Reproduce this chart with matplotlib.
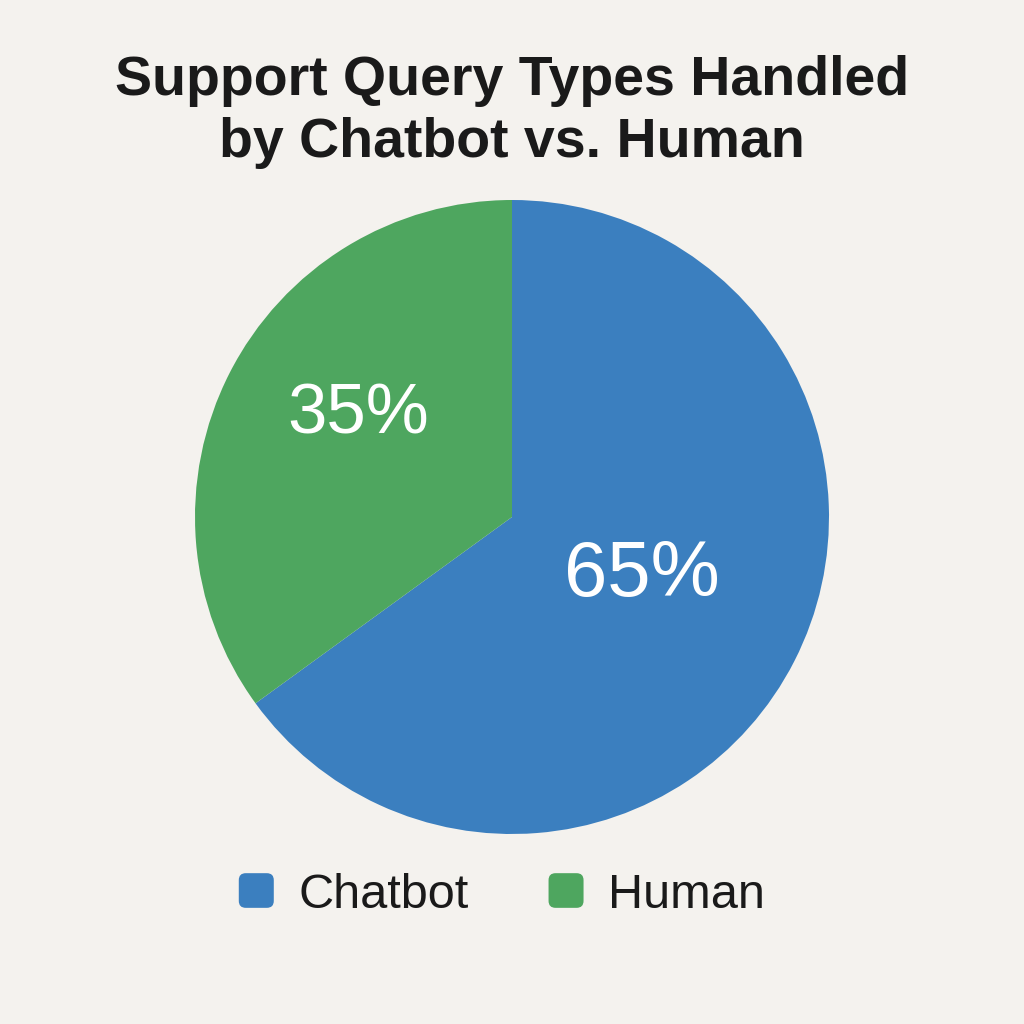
import numpy as np
import matplotlib
matplotlib.use("Agg")
import matplotlib.pyplot as plt
from matplotlib.patches import Patch, FancyBboxPatch
from matplotlib.legend_handler import HandlerPatch

# data
labels = ["Chatbot", "Human"]
shares = [65, 35]
colors = ["#3b7fbf", "#4ea65f"]
pct_sizes = [56, 51]
title = "Support Query Types Handled\nby Chatbot vs. Human"

BG = "#f4f2ee"
plt.rcParams["font.family"] = ["Liberation Sans", "DejaVu Sans"]

fig = plt.figure(figsize=(10.24, 10.24), dpi=100, facecolor=BG)
ax = fig.add_axes([195 / 1024, 190 / 1024, 634 / 1024, 634 / 1024])
ax.set_facecolor(BG)

wedges, _ = ax.pie(shares, colors=colors, startangle=90, counterclock=False,
                   radius=1.0, wedgeprops=dict(linewidth=0))
ax.set_xlim(-1, 1)
ax.set_ylim(-1, 1)
ax.set_aspect("equal")
ax.axis("off")

# percentage labels, nudged a little from the wedge middle like the original
label_dist = [0.45, 0.58]
angle_shift = [3, -6.5]
for w, val, size, d, sh in zip(wedges, shares, pct_sizes, label_dist, angle_shift):
    mid = np.deg2rad((w.theta1 + w.theta2) / 2 + sh)
    ax.text(d * np.cos(mid), d * np.sin(mid), f"{val}%", color="white",
            fontsize=size, ha="center", va="center")

fig.text(0.5, 1 - 112 / 1024, title, ha="center", va="center",
         fontsize=40, fontweight="bold", color="#1a1a1a", linespacing=1.25)


def rounded_box(legend, orig_handle, xdescent, ydescent, width, height, fontsize):
    return FancyBboxPatch((-xdescent, -ydescent), width, height,
                          boxstyle="round,pad=0,rounding_size=5")


handles = [Patch(facecolor=c, edgecolor="none") for c in colors]
fig.legend(handles, labels, loc="center", bbox_to_anchor=(0.49, 1 - 895 / 1024),
           ncol=2, frameon=False, fontsize=35, handlelength=0.72, handleheight=0.72,
           handletextpad=0.5, columnspacing=1.65,
           handler_map={Patch: HandlerPatch(patch_func=rounded_box)},
           labelcolor="#1a1a1a")

fig.savefig("out.png", dpi=100, facecolor=BG)
